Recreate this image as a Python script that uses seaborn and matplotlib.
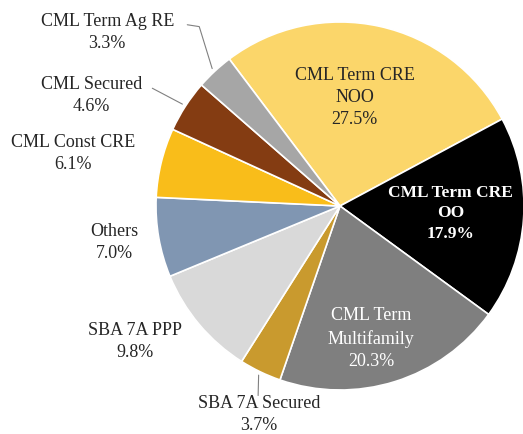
import numpy as np
import seaborn as sns
import matplotlib.pyplot as plt

# ---------------- data ----------------
segments = ['CML Term CRE\nNOO', 'CML Term CRE\nOO', 'CML Term\nMultifamily', 'SBA 7A Secured',
            'SBA 7A PPP', 'Others', 'CML Const CRE', 'CML Secured', 'CML Term Ag RE']
shares = [27.5, 17.9, 20.3, 3.7, 9.8, 7.0, 6.1, 4.6, 3.3]
colors = ['#FBD66A', '#000000', '#7F7F7F', '#C99A2E', '#D9D9D9',
          '#8096B2', '#F9BD1A', '#843C12', '#A6A6A6']

sns.set_theme(style='white')
plt.rcParams['font.family'] = ['Liberation Serif', 'DejaVu Serif']

fig = plt.figure(figsize=(5.23, 4.34), dpi=100)
ax = fig.add_axes([0, 0, 1, 1])

wedges, _ = ax.pie(shares, colors=colors, startangle=127, counterclock=False,
                   radius=1.0, wedgeprops=dict(edgecolor='white', linewidth=1.2))

# pixel frame: centre at (340, 206), radius 184 px
cx, cy, rpx = 340, 206, 184
ax.set_xlim(-cx / rpx, (523 - cx) / rpx)
ax.set_ylim((cy - 434) / rpx, cy / rpx)
ax.set_aspect('equal', adjustable='datalim')
ax.axis('off')

# label layout (data units) and styles
label_pos = [(0.08, 0.59), (0.60, -0.04), (0.17, -0.72), (-0.44, -1.135),
             (-1.115, -0.735), (-1.225, -0.20), (-1.45, 0.285), (-1.35, 0.60), (-1.265, 0.945)]
label_col = ['#262626', 'white', 'white'] + ['#262626'] * 6
label_wt = ['normal', 'bold', 'normal'] + ['normal'] * 6
label_fs = [13, 12.5, 13] + [13] * 6

for name, val, (x, y), c, w, fs in zip(segments, shares, label_pos, label_col, label_wt, label_fs):
    ax.text(x, y, f'{name}\n{val:.1f}%', ha='center', va='center', fontsize=fs,
            color=c, fontweight=w, linespacing=1.38)


def edge_point(wedge, r=1.0):
    mid = np.deg2rad((wedge.theta1 + wedge.theta2) / 2)
    return r * np.cos(mid), r * np.sin(mid)


# leader lines for the small outer slices
leaders = {8: [(-0.83, 0.985), (-0.765, 0.975)],
           7: [(-1.02, 0.64)],
           3: [(-0.445, -1.03)]}
for idx, pts in leaders.items():
    ex, ey = edge_point(wedges[idx], 1.02)
    xs = [p[0] for p in pts] + [ex]
    ys = [p[1] for p in pts] + [ey]
    ax.plot(xs, ys, color='#808080', lw=0.8)

plt.savefig('out.png', dpi=100)
